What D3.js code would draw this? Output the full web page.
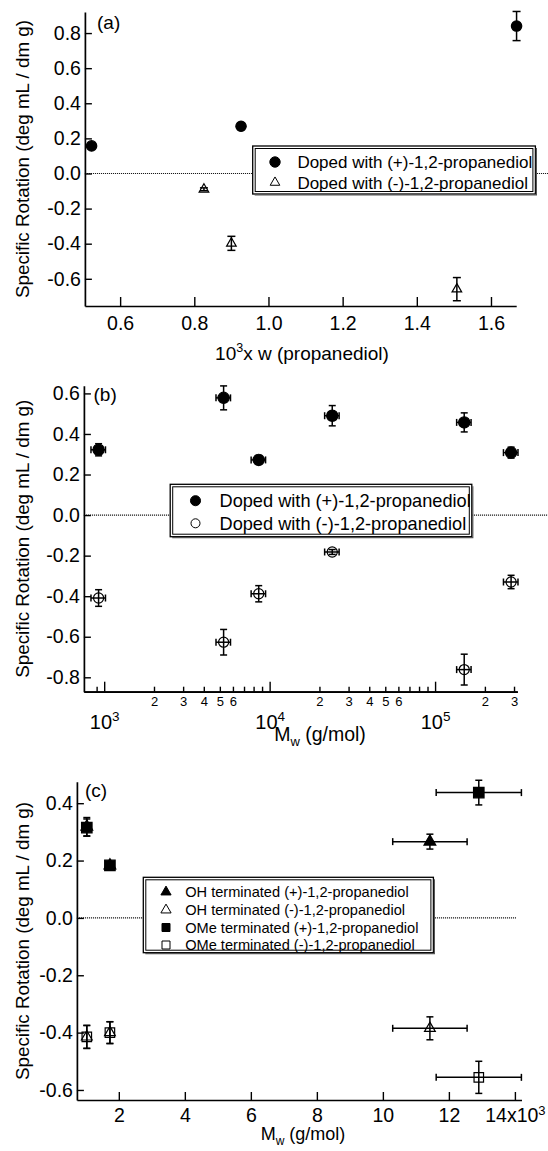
<!DOCTYPE html>
<html><head><meta charset="utf-8">
<script src="https://cdn.jsdelivr.net/npm/d3@7"></script>
<style>
body{margin:0;background:#fff}
text{font-family:"Liberation Sans",Arial,Helvetica,sans-serif;fill:#000}
</style>
</head><body>
<svg id="chart" width="548" height="1151"></svg>
<script>
// ---------------- DATA ----------------
// Panel (a)
const aPlusX = [0.523, 0.926, 1.669];
const aPlusY = [0.157, 0.269, 0.840];
const aPlusErr = [0.012, 0.018, 0.083];
const aMinusX = [0.826, 0.900, 1.508];
const aMinusY = [-0.090, -0.398, -0.659];
const aMinusErr = [0.008, 0.040, 0.066];
const aXTicks = [0.6, 0.8, 1.0, 1.2, 1.4, 1.6];
const aYTicks = [-0.6, -0.4, -0.2, 0.0, 0.2, 0.4, 0.6, 0.8];
const aLegend = ["Doped with (+)-1,2-propanediol", "Doped with (-)-1,2-propanediol"];

// Panel (b)
const bMw = [925, 5270, 8590, 23900, 150000, 288000];
const bMwErr = [93, 530, 860, 2400, 15000, 29000];
const bPlusY = [0.322, 0.578, 0.272, 0.490, 0.457, 0.308];
const bPlusErr = [0.030, 0.059, 0.022, 0.050, 0.047, 0.027];
const bMinusY = [-0.409, -0.627, -0.388, -0.182, -0.762, -0.330];
const bMinusErr = [0.041, 0.063, 0.040, 0.012, 0.076, 0.033];
const bMajorTicks = [1e3, 1e4, 1e5];
const bMajorExp = ["3", "4", "5"];
const bMinorTicks = [900, 2000, 3000, 4000, 5000, 6000, 7000, 8000, 9000,
  20000, 30000, 40000, 50000, 60000, 70000, 80000, 90000, 200000, 300000];
const bMinorLabels = ["", "2", "3", "4", "5", "6", "", "", "",
  "2", "3", "4", "5", "6", "", "", "", "2", "3"];
const bYTicks = [-0.8, -0.6, -0.4, -0.2, 0.0, 0.2, 0.4, 0.6];
const bLegend = ["Doped with (+)-1,2-propanediol", "Doped with (-)-1,2-propanediol"];

// Panel (c)
const cOHPlusX = [1030, 1730, 11425];
const cOHPlusXErr = [0, 0, 1127];
const cOHPlusY = [0.318, 0.183, 0.266];
const cOHPlusErr = [0.032, 0.010, 0.026];
const cOHMinusX = [1030, 1730, 11425];
const cOHMinusXErr = [0, 0, 1127];
const cOHMinusY = [-0.415, -0.400, -0.385];
const cOHMinusErr = [0.040, 0.038, 0.040];
const cOMePlusX = [1030, 1730, 12906];
const cOMePlusXErr = [0, 0, 1291];
const cOMePlusY = [0.315, 0.183, 0.437];
const cOMePlusErr = [0.030, 0.010, 0.043];
const cOMeMinusX = [1030, 1730, 12906];
const cOMeMinusXErr = [0, 0, 1291];
const cOMeMinusY = [-0.415, -0.400, -0.556];
const cOMeMinusErr = [0.040, 0.038, 0.056];
const cXTicks = [2000, 4000, 6000, 8000, 10000, 12000, 14000];
const cYTicks = [-0.6, -0.4, -0.2, 0.0, 0.2, 0.4];
const cLegend = ["OH terminated (+)-1,2-propanediol", "OH terminated (-)-1,2-propanediol",
  "OMe terminated (+)-1,2-propanediol", "OMe terminated (-)-1,2-propanediol"];

const yTitle = "Specific Rotation (deg mL / dm g)";

// ---------------- DRAWING ----------------
const svg = d3.select("#chart");
svg.append("rect").attr("width", 548).attr("height", 1151).attr("fill", "#fff");

const TICKFONT = 19.5;
const fmt1 = d => d.toFixed(1);

function styleAxis(g) {
  g.select(".domain").attr("stroke", "#000").attr("stroke-width", 1.7);
  g.selectAll(".tick line").attr("stroke", "#000").attr("stroke-width", 1.4);
  g.selectAll(".tick text").attr("font-family", "Liberation Sans, Arial, sans-serif").attr("fill", "#000");
}

function yAxis(y, x0, ticks) {
  const g = svg.append("g").attr("transform", `translate(${x0},0)`)
    .call(d3.axisLeft(y).tickValues(ticks).tickFormat(fmt1).tickSizeInner(-7).tickSizeOuter(0).tickPadding(4));
  g.attr("font-size", TICKFONT);
  styleAxis(g);
  return g;
}

function yLabel(xpos, ycenter) {
  svg.append("text").attr("transform", `translate(${xpos},${ycenter}) rotate(-90)`)
    .attr("text-anchor", "middle").attr("font-size", 18.8).text(yTitle);
}

function zeroLine(x, y, x1, x2) {
  svg.append("line").attr("x1", x1).attr("x2", x2).attr("y1", y(0)).attr("y2", y(0))
    .attr("stroke", "#000").attr("stroke-width", 1.2).attr("stroke-dasharray", "1,1");
}

function errBars(xs, ys, yerr, x, y, xerr, capW) {
  const g = svg.append("g").attr("stroke", "#000").attr("stroke-width", 1.5).attr("fill", "none");
  xs.forEach((xv, i) => {
    const px = x(xv), py = y(ys[i]);
    const y1 = y(ys[i] + yerr[i]), y2 = y(ys[i] - yerr[i]);
    if (yerr[i] > 0) {
      g.append("line").attr("x1", px).attr("x2", px).attr("y1", y1).attr("y2", y2);
      g.append("line").attr("x1", px - capW / 2).attr("x2", px + capW / 2).attr("y1", y1).attr("y2", y1);
      g.append("line").attr("x1", px - capW / 2).attr("x2", px + capW / 2).attr("y1", y2).attr("y2", y2);
    }
    if (xerr && xerr[i] > 0) {
      const x1 = x(xv - xerr[i]), x2 = x(xv + xerr[i]);
      g.append("line").attr("x1", x1).attr("x2", x2).attr("y1", py).attr("y2", py);
      g.append("line").attr("x1", x1).attr("x2", x1).attr("y1", py - capW / 2).attr("y2", py + capW / 2);
      g.append("line").attr("x1", x2).attr("x2", x2).attr("y1", py - capW / 2).attr("y2", py + capW / 2);
    }
  });
}

function markers(xs, ys, x, y, type, size, filled) {
  const sym = d3.symbol().type(type).size(size);
  svg.append("g").selectAll("path").data(xs).join("path")
    .attr("transform", (d, i) => `translate(${x(d)},${y(ys[i])})`)
    .attr("d", sym)
    .attr("fill", filled ? "#000" : "none")
    .attr("stroke", "#000").attr("stroke-width", 1.2);
}

function legendBox(x0, y0, w, h) {
  svg.append("rect").attr("x", x0).attr("y", y0).attr("width", w).attr("height", h)
    .attr("fill", "#fff").attr("stroke", "#000").attr("stroke-width", 1.3);
  svg.append("rect").attr("x", x0 + 2.5).attr("y", y0 + 2.5).attr("width", w - 5).attr("height", h - 5)
    .attr("fill", "none").attr("stroke", "#000").attr("stroke-width", 1);
  svg.append("path").attr("d", `M${x0 + 2},${y0 + h + 1}H${x0 + w + 1}V${y0 + 2}`)
    .attr("fill", "none").attr("stroke", "#555").attr("stroke-width", 1.2);
}

function legendEntry(mx, ty, tx, label, type, size, filled, fs) {
  svg.append("path").attr("transform", `translate(${mx},${ty})`)
    .attr("d", d3.symbol().type(type).size(size))
    .attr("fill", filled ? "#000" : "#fff").attr("stroke", "#000").attr("stroke-width", 1);
  svg.append("text").attr("x", tx).attr("y", ty).attr("dy", "0.36em")
    .attr("font-size", fs).text(label);
}

// ===== Panel (a) =====
{
  const x = d3.scaleLinear().domain([0.505, 1.668]).range([84.9, 516.2]);
  const y = d3.scaleLinear().domain([-0.755, 0.92]).range([306, 12]);
  zeroLine(x, y, 84.9, 548);
  yAxis(y, 84.9, aYTicks);
  const gx = svg.append("g").attr("transform", "translate(0,306)")
    .call(d3.axisBottom(x).tickValues(aXTicks).tickFormat(fmt1).tickSizeInner(-9).tickSizeOuter(0).tickPadding(10));
  gx.attr("font-size", TICKFONT); styleAxis(gx);
  svg.append("text").attr("x", 97).attr("y", 29).attr("font-size", 19).text("(a)");
  markers(aPlusX, aPlusY, x, y, d3.symbolCircle, 85, true);
  markers(aMinusX, aMinusY, x, y, d3.symbolTriangle, 40, false);
  errBars(aPlusX, aPlusY, aPlusErr, x, y, null, 8);
  errBars(aMinusX, aMinusY, aMinusErr, x, y, null, 8);
  yLabel(29, 159);
  const t = svg.append("text").attr("x", 302).attr("y", 360).attr("text-anchor", "middle").attr("font-size", 19);
  t.append("tspan").text("10");
  t.append("tspan").attr("font-size", 12.5).attr("dy", -8).text("3");
  t.append("tspan").attr("dy", 8).text("x w (propanediol)");
  legendBox(252.7, 146, 282.7, 48);
  legendEntry(275, 162, 297.4, aLegend[0], d3.symbolCircle, 85, true, 17);
  legendEntry(275, 182.5, 297.4, aLegend[1], d3.symbolTriangle, 40, false, 17);
}

// ===== Panel (b) =====
{
  const x = d3.scaleLog().domain([754, 314000]).range([83.9, 517.3]);
  const y = d3.scaleLinear().domain([-0.871, 0.638]).range([691.7, 385.7]);
  zeroLine(x, y, 83.9, 548);
  yAxis(y, 83.9, bYTicks);
  const gMinor = svg.append("g").attr("transform", "translate(0,691.7)")
    .call(d3.axisBottom(x).tickValues(bMinorTicks).tickFormat((d, i) => bMinorLabels[i])
      .tickSizeInner(-5).tickSizeOuter(0).tickPadding(5));
  gMinor.attr("font-size", 13); styleAxis(gMinor);
  const gMajor = svg.append("g").attr("transform", "translate(0,691.7)")
    .call(d3.axisBottom(x).tickValues(bMajorTicks).tickFormat(() => "")
      .tickSizeInner(-10).tickSizeOuter(0).tickPadding(23));
  gMajor.attr("font-size", 20); styleAxis(gMajor);
  gMajor.selectAll(".tick text").each(function (d, i) {
    const t = d3.select(this);
    t.append("tspan").text("10");
    t.append("tspan").attr("font-size", 13.5).attr("dy", "-0.55em").text(bMajorExp[i]);
  });
  svg.append("text").attr("x", 93.5).attr("y", 401).attr("font-size", 19).text("(b)");
  markers(bMw, bPlusY, x, y, d3.symbolCircle, 100, true);
  markers(bMw, bMinusY, x, y, d3.symbolCircle, 80, false);
  errBars(bMw, bPlusY, bPlusErr, x, y, bMwErr, 7);
  errBars(bMw, bMinusY, bMinusErr, x, y, bMwErr, 7);
  yLabel(29, 538.7);
  const t = svg.append("text").attr("x", 320).attr("y", 741).attr("text-anchor", "middle").attr("font-size", 19.5);
  t.append("tspan").text("M");
  t.append("tspan").attr("font-size", 13).attr("dy", 5).text("w");
  t.append("tspan").attr("dy", -5).text(" (g/mol)");
  legendBox(170.2, 484.3, 301.6, 52.4);
  legendEntry(195.5, 500.7, 219.5, bLegend[0], d3.symbolCircle, 80, true, 18.2);
  legendEntry(195.5, 523.3, 219.5, bLegend[1], d3.symbolCircle, 64, false, 18.2);
}

// ===== Panel (c) =====
{
  const x = d3.scaleLinear().domain([730, 14200]).range([76.9, 521.5]);
  const y = d3.scaleLinear().domain([-0.635, 0.475]).range([1100, 781.7]);
  zeroLine(x, y, 76.9, 516);
  yAxis(y, 76.9, cYTicks);
  const gx = svg.append("g").attr("transform", "translate(0,1100)")
    .call(d3.axisBottom(x).tickValues(cXTicks).tickFormat(d => d === 14000 ? "" : String(d / 1000))
      .tickSizeInner(-8).tickSizeOuter(0).tickPadding(8));
  gx.attr("font-size", TICKFONT); styleAxis(gx);
  gx.selectAll(".tick text").filter(d => d === 14000).each(function () {
    const t = d3.select(this);
    t.append("tspan").text("14x10");
    t.append("tspan").attr("font-size", 13).attr("dy", "-0.55em").text("3");
  });
  svg.append("text").attr("x", 85).attr("y", 797).attr("font-size", 19).text("(c)");
  markers(cOMePlusX, cOMePlusY, x, y, d3.symbolSquare, 110, true);
  markers(cOHPlusX, cOHPlusY, x, y, d3.symbolTriangle, 60, true);
  markers(cOMeMinusX, cOMeMinusY, x, y, d3.symbolSquare, 90, false);
  markers(cOHMinusX, cOHMinusY, x, y, d3.symbolTriangle, 50, false);
  errBars(cOHPlusX, cOHPlusY, cOHPlusErr, x, y, cOHPlusXErr, 7);
  errBars(cOMePlusX, cOMePlusY, cOMePlusErr, x, y, cOMePlusXErr, 7);
  errBars(cOHMinusX, cOHMinusY, cOHMinusErr, x, y, cOHMinusXErr, 7);
  errBars(cOMeMinusX, cOMeMinusY, cOMeMinusErr, x, y, cOMeMinusXErr, 7);
  yLabel(29, 941);
  const t = svg.append("text").attr("x", 303).attr("y", 1140).attr("text-anchor", "middle").attr("font-size", 18);
  t.append("tspan").text("M");
  t.append("tspan").attr("font-size", 12).attr("dy", 5).text("w");
  t.append("tspan").attr("dy", -5).text(" (g/mol)");
  legendBox(143.3, 877.3, 290.1, 75.4);
  const types = [d3.symbolTriangle, d3.symbolTriangle, d3.symbolSquare, d3.symbolSquare];
  const sizes = [45, 45, 64, 64];
  const fills = [true, false, true, false];
  const rowY = [892, 910, 927.5, 945];
  cLegend.forEach((lab, i) => legendEntry(166, rowY[i], 185.2, lab, types[i], sizes[i], fills[i], 14.6));
}
</script>
</body></html>
